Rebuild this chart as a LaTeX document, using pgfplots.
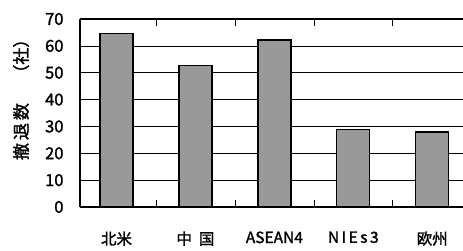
\documentclass[border=0pt]{standalone}
\usepackage{pgfplots}
\pgfplotsset{compat=1.18}
\usepackage{fontspec}
\setmainfont{Noto Sans CJK JP}[FakeBold=1.5]
\definecolor{bargray}{RGB}{153,153,153}
\begin{document}
\begin{tikzpicture}[x=1bp,y=1bp]
\begin{axis}[
  at={(80bp,44bp)}, anchor=south west,
  scale only axis, width=383bp, height=188bp,
  xmin=-0.463, xmax=4.39, ymin=0, ymax=70,
  separate axis lines,
  axis x line*=box, axis y line*=left,
  axis line style={line width=1.6pt, black},
  ytick={0,10,...,70},
  ymajorgrids, grid style={black, line width=0.7pt},
  ytick style={draw=none},
  xtick={0,1,2,3,4},
  xticklabels={北米,中\hspace{7bp}国,{ASEAN4},{\addfontfeatures{LetterSpace=16}NIEs3},欧州},
  xtick style={draw=none},
  minor xtick={0.5,1.5,2.5,3.5},
  minor tick length=7bp,
  minor x tick style={draw=black, line width=0.6pt},
  tick align=inside,
  /pgf/number format/assume math mode=true,
  yticklabel style={font=\fontsize{16.5bp}{16.5bp}\selectfont, xshift=-13bp},
  xticklabel style={font=\fontsize{15.5bp}{15.5bp}\selectfont, anchor=north, yshift=-21bp},
  clip=false,
]
\addplot[ybar, bar width=33bp, fill=bargray, draw=black, line width=1.3pt] coordinates {
(0,64.7) (1,52.8) (2,62.2) (3,28.8) (4,27.9)
};
\node[rotate=90, anchor=center, inner sep=0pt] at (axis description cs:-0.154,0.594)
  {\fontsize{17bp}{17bp}\selectfont 撤\hspace{3bp}退\hspace{3bp}数\hspace{21.5bp}（社）};
\end{axis}
\pgfresetboundingbox
\useasboundingbox (0,0) rectangle (463bp,251bp);
\end{tikzpicture}
\end{document}
